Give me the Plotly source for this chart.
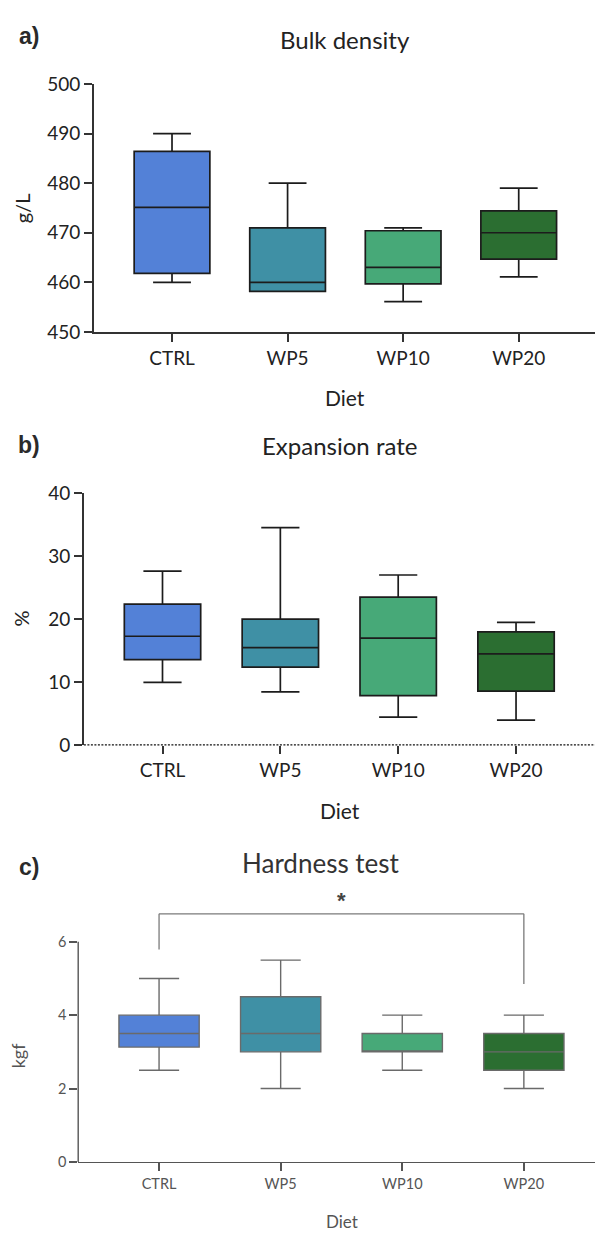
import plotly.graph_objects as go

W, H = 595, 1241

diets = ["CTRL", "WP5", "WP10", "WP20"]
colors = ["#5381d7", "#3f90a5", "#47a978", "#2b6e31"]

# Bulk density (g/L)
bulk_min = [460.0, 458.2, 456.1, 461.1]
bulk_q1 = [461.8, 458.2, 459.7, 464.7]
bulk_med = [475.1, 460.0, 463.0, 470.0]
bulk_q3 = [486.4, 471.0, 470.4, 474.4]
bulk_max = [490.0, 480.0, 471.0, 479.0]

# Expansion rate (%)
exp_min = [10.0, 8.5, 4.5, 4.0]
exp_q1 = [13.6, 12.4, 7.9, 8.6]
exp_med = [17.3, 15.5, 17.0, 14.5]
exp_q3 = [22.4, 20.0, 23.5, 18.0]
exp_max = [27.6, 34.5, 27.0, 19.5]

# Hardness test (kgf)
hard_min = [2.5, 2.0, 2.5, 2.0]
hard_q1 = [3.13, 3.0, 3.0, 2.5]
hard_med = [3.5, 3.5, 3.0, 3.0]
hard_q3 = [4.0, 4.5, 3.5, 3.5]
hard_max = [5.0, 5.5, 4.0, 4.0]

# significance bracket CTRL vs WP20
bracket_top = 6.76
bracket_left_end = 5.79
bracket_right_end = 4.85
star_y = 7.13

FONT = "Lato"
DARK = "#222222"
GREY = "#555555"


def py(pix):
    """pixel row from top -> paper fraction"""
    return 1 - pix / H


def px(pix):
    return pix / W


fig = go.Figure()

panels = [
    dict(ax="", vals=(bulk_min, bulk_q1, bulk_med, bulk_q3, bulk_max), width=0.655,
         line="#1c1c1c", lw=1.7),
    dict(ax="2", vals=(exp_min, exp_q1, exp_med, exp_q3, exp_max), width=0.648,
         line="#1c1c1c", lw=1.7),
    dict(ax="3", vals=(hard_min, hard_q1, hard_med, hard_q3, hard_max), width=0.66,
         line="#6a6a6a", lw=1.4),
]

for p in panels:
    mn, q1, md, q3, mx = p["vals"]
    for i, d in enumerate(diets):
        fig.add_trace(go.Box(
            x=[d], lowerfence=[mn[i]], q1=[q1[i]], median=[md[i]], q3=[q3[i]],
            upperfence=[mx[i]], fillcolor=colors[i],
            line=dict(color=p["line"], width=p["lw"]),
            width=p["width"], whiskerwidth=0.5, boxpoints=False,
            showlegend=False, hoverinfo="skip",
            xaxis="x" + p["ax"], yaxis="y" + p["ax"],
        ))

axis_common = dict(showgrid=False, zeroline=False, ticks="outside",
                   tickwidth=1.5, ticklen=8)

Y3_TOP = 7.3
layout = dict(
    width=W, height=H, margin=dict(l=0, r=0, t=0, b=0),
    paper_bgcolor="white", plot_bgcolor="white", boxmode="overlay",
    font=dict(family=FONT, color=DARK),
    xaxis=dict(**axis_common, domain=[px(94), 1], range=[-0.675, 3.66],
               type="category", categoryarray=diets, showline=True,
               linecolor="#333", linewidth=1.6, tickcolor="#333",
               tickfont=dict(size=19, color=DARK), anchor="y"),
    yaxis=dict(**axis_common, domain=[py(326), py(73.3)], range=[450, 500],
               tickvals=[450, 460, 470, 480, 490, 500], showline=True,
               linecolor="#333", linewidth=1.6, tickcolor="#333",
               tickfont=dict(size=19, color=DARK), anchor="x"),
    xaxis2=dict(**axis_common, domain=[px(83.9), 1], range=[-0.667, 3.67],
                type="category", categoryarray=diets, showline=False,
                tickcolor="#333", tickfont=dict(size=19, color=DARK), anchor="y2"),
    yaxis2=dict(**axis_common, domain=[py(747.3), py(490)], range=[0, 40],
                tickvals=[0, 10, 20, 30, 40], showline=True,
                linecolor="#333", linewidth=1.6, tickcolor="#333",
                tickfont=dict(size=19, color=DARK), anchor="x2"),
    xaxis3=dict(**axis_common, domain=[px(78.2), 1], range=[-0.665, 3.585],
                type="category", categoryarray=diets, showline=True,
                linecolor="#555", linewidth=1.4, tickcolor="#555",
                tickfont=dict(size=14.5, color=GREY), anchor="y3"),
    yaxis3=dict(**axis_common, domain=[py(1171.7), py(1171.7 - Y3_TOP * 37.4)],
                range=[0, Y3_TOP], tickvals=[0, 2, 4, 6], showline=False,
                tickcolor="#555", tickfont=dict(size=14.5, color=GREY), anchor="x3"),
)
fig.update_layout(**layout)

shapes = [
    # dotted baseline at 0 %
    dict(type="line", xref="x2 domain", yref="y2", x0=0, x1=1, y0=0, y1=0,
         line=dict(color="#111", width=2.6, dash="2px,1.5px")),
    # hardness y-axis line (0-6)
    dict(type="line", xref="x3 domain", yref="y3", x0=0, x1=0, y0=0, y1=6,
         line=dict(color="#555", width=1.4)),
    # significance bracket
    dict(type="line", xref="x3", yref="y3", x0="CTRL", x1="CTRL",
         y0=bracket_left_end, y1=bracket_top, line=dict(color="#7a7a7a", width=1.3)),
    dict(type="line", xref="x3", yref="y3", x0="CTRL", x1="WP20",
         y0=bracket_top, y1=bracket_top, line=dict(color="#7a7a7a", width=1.3)),
    dict(type="line", xref="x3", yref="y3", x0="WP20", x1="WP20",
         y0=bracket_right_end, y1=bracket_top, line=dict(color="#7a7a7a", width=1.3)),
]
fig.update_layout(shapes=shapes)


def ann(text, x, y, size, color=DARK, family=FONT, angle=0, **kw):
    return dict(text=text, x=px(x), y=py(y), xref="paper", yref="paper",
                showarrow=False, xanchor="center", yanchor="middle",
                font=dict(size=size, color=color, family=family),
                textangle=angle, **kw)


annotations = [
    ann("<b>a)</b>", 29, 24, 23, color="#2a2a2a", family="Liberation Sans"),
    ann("<b>b)</b>", 29, 441, 23, color="#2a2a2a", family="Liberation Sans"),
    ann("<b>c)</b>", 29, 871, 23, color="#2a2a2a", family="Liberation Sans"),
    ann("Bulk density", 345, 28, 24),
    ann("Expansion rate", 339, 441.7, 24),
    ann("Hardness test", 320.5, 867, 26, color="#333"),
    ann("Diet", 345, 393, 21),
    ann("Diet", 340, 814, 21),
    ann("Diet", 342, 1232, 17, color=GREY),
    ann("g/L", 22, 200, 20, angle=-90),
    ann("%", 21, 618, 20, angle=-90),
    ann("kgf", 18, 1063, 18, color=GREY, angle=-90),
    # significance mark centred over the bracket
    dict(text="<b>*</b>", x=1.5, y=star_y, xref="x3", yref="y3",
         showarrow=False, font=dict(size=22, color="#444", family="Liberation Sans"),
         xanchor="center", yanchor="middle"),
]
fig.update_layout(annotations=annotations)

fig.write_html("out.html")
